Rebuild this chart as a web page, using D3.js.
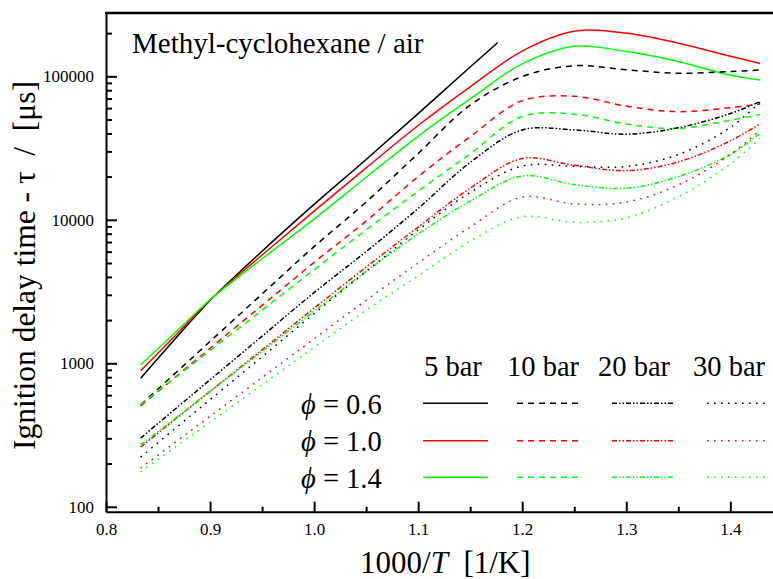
<!DOCTYPE html>
<html><head><meta charset="utf-8">
<script src="https://cdn.jsdelivr.net/npm/d3@7"></script>
<style>
body{margin:0;background:#fff}
svg{display:block}
text{font-family:"Liberation Serif","Times New Roman",serif;fill:#000;white-space:pre}
</style>
</head><body>
<svg id="chart" width="773" height="579"></svg>
<script>
// ---------- data ----------
const invT = [0.8333, 0.87, 0.9, 0.95, 1.0, 1.05, 1.1, 1.15, 1.2, 1.25, 1.3, 1.35, 1.4, 1.4286];
const invT_5bar_phi06 = [0.8333, 0.87, 0.9, 0.95, 1.0, 1.05, 1.1, 1.15, 1.1765];

const tau_5bar_phi06  = [787, 1580, 2740, 6040, 12800, 26300, 55000, 116000, 172000];
const tau_5bar_phi10  = [888, 1650, 2760, 5680, 11500, 23000, 45400, 84500, 150000, 206000, 200000, 170000, 138000, 123000];
const tau_5bar_phi14  = [973, 1730, 2770, 5350, 10100, 19800, 38200, 69500, 122000, 162000, 149000, 127000, 102000, 94200];

const tau_10bar_phi06 = [514, 898, 1420, 3040, 6500, 13300, 29000, 63000, 99500, 118500, 111000, 105000, 108000, 110700];
const tau_10bar_phi10 = [505, 838, 1270, 2530, 5050, 9800, 20000, 38000, 67500, 72500, 62000, 56700, 60500, 64000];
const tau_10bar_phi14 = [515, 830, 1225, 2345, 4490, 8500, 15800, 28800, 52500, 54500, 46500, 43300, 49500, 54300];

const tau_20bar_phi06 = [301, 504, 767, 1545, 3110, 6000, 12000, 25100, 42300, 42300, 39500, 43800, 55000, 66600];
const tau_20bar_phi10 = [261, 427, 637, 1240, 2420, 4680, 8900, 16600, 26700, 24000, 22000, 25300, 35500, 46600];
const tau_20bar_phi14 = [270, 432, 637, 1210, 2310, 4370, 7950, 13500, 20200, 17600, 16600, 20000, 28500, 40100];

const tau_30bar_phi06 = [222, 369, 558, 1110, 2220, 4360, 8500, 15500, 23700, 23600, 23500, 28500, 44000, 66000];
const tau_30bar_phi10 = [186, 294, 427, 795, 1480, 2750, 5000, 8900, 14400, 12900, 13300, 17500, 28500, 42300];
const tau_30bar_phi14 = [175, 272, 389, 708, 1290, 2340, 4070, 7080, 10500, 9600, 10300, 14500, 24500, 37000];

const pressures = ["5 bar", "10 bar", "20 bar", "30 bar"];
const phiLabels = ["0.6", "1.0", "1.4"];
const xTickValues = [0.8, 0.9, 1.0, 1.1, 1.2, 1.3, 1.4];
const yTickValues = [100, 1000, 10000, 100000];

// ---------- styles ----------
const colors = ["#000000", "#ff0000", "#00ff00"];
const dashes = [null, "6,5", "5,2,1.5,2,1.5,2", "1.6,5.4"];

const series = [
  {x: invT_5bar_phi06, y: tau_5bar_phi06, c: 0, d: 0},
  {x: invT, y: tau_5bar_phi10, c: 1, d: 0},
  {x: invT, y: tau_5bar_phi14, c: 2, d: 0},
  {x: invT, y: tau_10bar_phi06, c: 0, d: 1},
  {x: invT, y: tau_10bar_phi10, c: 1, d: 1},
  {x: invT, y: tau_10bar_phi14, c: 2, d: 1},
  {x: invT, y: tau_20bar_phi06, c: 0, d: 2},
  {x: invT, y: tau_20bar_phi10, c: 1, d: 2},
  {x: invT, y: tau_20bar_phi14, c: 2, d: 2},
  {x: invT, y: tau_30bar_phi06, c: 0, d: 3},
  {x: invT, y: tau_30bar_phi10, c: 1, d: 3},
  {x: invT, y: tau_30bar_phi14, c: 2, d: 3}
];

// ---------- layout ----------
const svg = d3.select("#chart");
const L = 106, R = 773, T = 13, B = 511.7;

const x = d3.scaleLinear().domain([0.8, 1.441]).range([L, R]);
const y = d3.scaleLog().domain([92.4, 276200]).range([B, T]);

svg.append("rect").attr("width", 773).attr("height", 579).attr("fill", "#fff");

// curves
const line = d3.line().curve(d3.curveCatmullRom.alpha(0.5));
const gCurves = svg.append("g");
series.forEach(s => {
  const pts = s.x.map((v, i) => [x(v), y(s.y[i])]);
  gCurves.append("path")
    .attr("d", line(pts))
    .attr("fill", "none")
    .attr("stroke", colors[s.c])
    .attr("stroke-width", 1.5)
    .attr("stroke-dasharray", dashes[s.d]);
});

// axes
const axisW = 2;
const xMinor = d3.range(0.85, 1.45, 0.1);
svg.append("g").attr("transform", `translate(0,${B})`)
  .call(d3.axisBottom(x).tickValues(xMinor).tickSizeInner(-5).tickSizeOuter(0).tickFormat(""))
  .call(g => g.select(".domain").remove())
  .call(g => g.selectAll("line").attr("stroke-width", axisW));
svg.append("g").attr("transform", `translate(0,${B})`)
  .call(d3.axisBottom(x).tickValues(xTickValues).tickSizeInner(-10).tickSizeOuter(0).tickPadding(11).tickFormat(d3.format(".1f")))
  .call(g => g.select(".domain").attr("stroke-width", axisW))
  .call(g => g.selectAll("line").attr("stroke-width", axisW))
  .call(g => g.selectAll("text").attr("font-size", 17));

const yMinor = [];
[100, 1000, 10000, 100000].forEach(d => { for (let k = 2; k <= 9; k++) if (d * k < 276200) yMinor.push(d * k); });
svg.append("g").attr("transform", `translate(${L},0)`)
  .call(d3.axisLeft(y).tickValues(yMinor).tickSizeInner(-6).tickSizeOuter(0).tickFormat(""))
  .call(g => g.select(".domain").remove())
  .call(g => g.selectAll("line").attr("stroke-width", axisW));
svg.append("g").attr("transform", `translate(${L},0)`)
  .call(d3.axisLeft(y).tickValues(yTickValues).tickSizeInner(-11).tickSizeOuter(0).tickPadding(12).tickFormat(d3.format("d")))
  .call(g => g.select(".domain").attr("stroke-width", axisW))
  .call(g => g.selectAll("line").attr("stroke-width", axisW))
  .call(g => g.selectAll("text").attr("font-size", 17));

// top frame
svg.append("line").attr("x1", L - 1).attr("x2", R).attr("y1", T).attr("y2", T)
  .attr("stroke", "#000").attr("stroke-width", 2.5);

// title
svg.append("text").attr("x", 132).attr("y", 53).attr("font-size", 29)
  .text("Methyl-cyclohexane / air");

// axis titles
const xt = svg.append("text").attr("x", 360).attr("y", 573).attr("font-size", 31);
xt.append("tspan").text("1000/");
xt.append("tspan").attr("font-style", "italic").text("T");
xt.append("tspan").text("  [1/K]");

svg.append("text")
  .attr("transform", "translate(35,265.5) rotate(-90)")
  .attr("text-anchor", "middle").attr("font-size", 31.5)
  .text("Ignition delay time - τ  /  [μs]");

// legend
const colX = [[423, 488], [517, 583], [612, 675], [707, 770]];
const headX = [424, 507, 598, 693];
const rowY = [403.3, 440.7, 477.3];
const rowTextY = [414, 451, 488];
pressures.forEach((p, j) => {
  svg.append("text").attr("x", headX[j]).attr("y", 376).attr("font-size", 28.5).text(p);
});
phiLabels.forEach((ph, i) => {
  const t = svg.append("text").attr("x", 301).attr("y", rowTextY[i]).attr("font-size", 28.5);
  t.append("tspan").attr("font-style", "italic").text("ϕ");
  t.append("tspan").text(" = " + ph);
  pressures.forEach((p, j) => {
    svg.append("line")
      .attr("x1", colX[j][0]).attr("x2", colX[j][1])
      .attr("y1", rowY[i]).attr("y2", rowY[i])
      .attr("stroke", colors[i]).attr("stroke-width", 1.5)
      .attr("stroke-dasharray", dashes[j]);
  });
});
</script>
</body></html>
